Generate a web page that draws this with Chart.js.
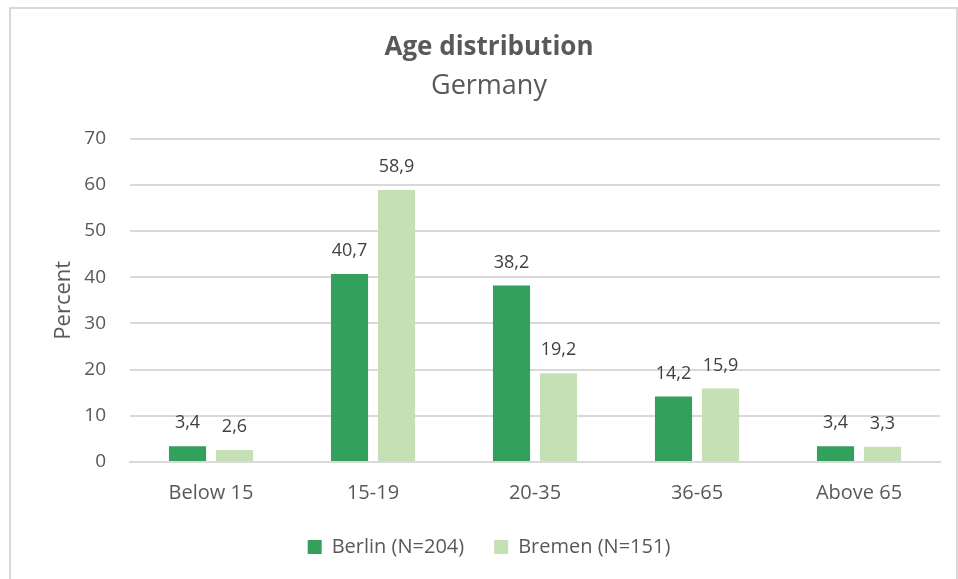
<!DOCTYPE html>
<html>
<head>
<meta charset="utf-8">
<script src="https://cdn.jsdelivr.net/npm/chart.js@4"></script>
<style>
  html, body { margin: 0; padding: 0; background: #fff; }
  #box {
    position: absolute; left: 9px; top: 7px;
    width: 945px; height: 576px;
    border: 2px solid #d9d9d9; background: #fff;
  }
</style>
</head>
<body>
<div id="box"><canvas id="myChart"></canvas></div>
<script>
const categories = ['Below 15', '15-19', '20-35', '36-65', 'Above 65'];
const berlin = [3.4, 40.7, 38.2, 14.2, 3.4];
const bremen = [2.6, 58.9, 19.2, 15.9, 3.3];
const seriesNames = ['Berlin (N=204)', 'Bremen (N=151)'];
const yTicks = [0, 10, 20, 30, 40, 50, 60, 70];

const fontName = '"Open Sans", "Noto Sans", sans-serif';
const grey = '#595959';

// labels above bars, decimal comma
const barLabels = {
  id: 'barLabels',
  afterDatasetsDraw(chart) {
    const c = chart.ctx;
    c.save();
    c.font = '18px ' + fontName;
    c.fillStyle = '#404040';
    c.textAlign = 'center';
    c.textBaseline = 'middle';
    chart.data.datasets.forEach((ds, i) => {
      chart.getDatasetMeta(i).data.forEach((bar, j) => {
        c.fillText(ds.data[j].toFixed(1).replace('.', ','), bar.x, bar.y - 23);
      });
    });
    c.restore();
  }
};

const ctx = document.getElementById('myChart');

new Chart(ctx, {
  type: 'bar',
  data: {
    labels: categories,
    datasets: [
      { label: seriesNames[0], data: berlin, backgroundColor: '#33a05c' },
      { label: seriesNames[1], data: bremen, backgroundColor: '#c5e0b4' }
    ]
  },
  options: {
    responsive: true,
    maintainAspectRatio: false,
    animation: false,
    datasets: { bar: { categoryPercentage: 0.58, barPercentage: 0.79 } },
    layout: { padding: { left: 27, right: 16, top: 0, bottom: 18 } },
    scales: {
      x: {
        afterFit: (axis) => { axis.height = axis.height - 9; },
        grid: { display: false },
        border: { color: '#d9d9d9', width: 2 },
        ticks: { color: grey, font: { family: fontName, size: 20 }, padding: 11 }
      },
      y: {
        min: 0, max: 70,
        afterBuildTicks: (axis) => { axis.ticks = yTicks.map(v => ({ value: v })); },
        afterFit: (axis) => { axis.width = 92; },
        grid: { color: '#d9d9d9', lineWidth: 2, drawTicks: false },
        border: { display: false },
        ticks: { color: grey, font: { family: fontName, size: 19 }, padding: 24 },
        title: { display: true, text: 'Percent', color: grey, font: { family: fontName, size: 22 }, padding: { top: 13, bottom: 0 } }
      }
    },
    plugins: {
      title: {
        display: true, text: 'Age distribution', color: grey,
        font: { family: fontName, size: 26, weight: 'bold' },
        padding: { top: 23, bottom: 3 }
      },
      subtitle: {
        display: true, text: 'Germany', color: grey,
        font: { family: fontName, size: 27 },
        padding: { top: 4, bottom: 36 }
      },
      legend: {
        position: 'bottom',
        labels: { color: grey, font: { family: fontName, size: 20 }, boxWidth: 14, boxHeight: 14, padding: 30 }
      },
      tooltip: { enabled: false }
    }
  },
  plugins: [barLabels]
});
</script>
</body>
</html>
